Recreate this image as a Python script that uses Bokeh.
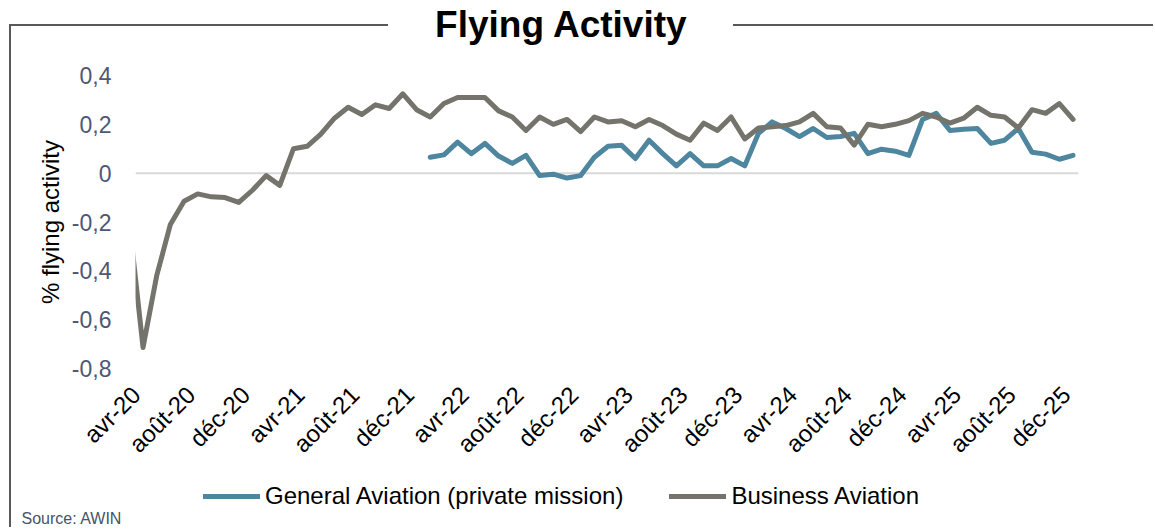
import math
from bokeh.plotting import figure
from bokeh.layouts import column
from bokeh.models import (FixedTicker, Span, Legend, LegendItem, Range1d,
                          ColumnDataSource, Label)
from bokeh.embed import file_html
from bokeh.resources import INLINE

# ---------------- data ----------------
# month index: 0 = janv-20 ; values are plotted at mid-month
tick_months = [3, 7, 11, 15, 19, 23, 27, 31, 35, 39, 43, 47, 51, 55, 59, 63, 67, 71]
tick_labels = ["avr-20", "août-20", "déc-20", "avr-21", "août-21", "déc-21",
               "avr-22", "août-22", "déc-22", "avr-23", "août-23", "déc-23",
               "avr-24", "août-24", "déc-24", "avr-25", "août-25", "déc-25"]

y_ticks = [-0.8, -0.6, -0.4, -0.2, 0, 0.2, 0.4]
y_tick_labels = ["-0,8", "-0,6", "-0,4", "-0,2", "0", "0,2", "0,4"]

business_start = 2   # mars-20
business = [-0.2, -0.714, -0.42, -0.21, -0.115, -0.085, -0.097, -0.10, -0.12, -0.07,
            -0.01, -0.05, 0.10, 0.11, 0.16, 0.225, 0.27, 0.24, 0.28, 0.265,
            0.325, 0.26, 0.23, 0.285, 0.31, 0.31, 0.31, 0.255, 0.23, 0.175,
            0.23, 0.20, 0.22, 0.17, 0.23, 0.21, 0.215, 0.19, 0.22, 0.195,
            0.16, 0.135, 0.205, 0.175, 0.23, 0.14, 0.185, 0.19, 0.195, 0.21,
            0.245, 0.19, 0.185, 0.115, 0.20, 0.19, 0.20, 0.215, 0.245, 0.23,
            0.205, 0.225, 0.27, 0.237, 0.23, 0.185, 0.26, 0.245, 0.285, 0.22]

general_start = 24   # janv-22
general = [0.065, 0.075, 0.127, 0.08, 0.122, 0.07, 0.04, 0.073, -0.01, -0.004,
           -0.02, -0.01, 0.065, 0.11, 0.114, 0.06, 0.135, 0.08, 0.03, 0.08,
           0.03, 0.03, 0.06, 0.03, 0.163, 0.21, 0.183, 0.15, 0.183, 0.146,
           0.15, 0.163, 0.08, 0.098, 0.09, 0.073, 0.22, 0.245, 0.175, 0.18,
           0.183, 0.122, 0.135, 0.183, 0.086, 0.078, 0.057, 0.073]

series_names = ["General Aviation (private mission)", "Business Aviation"]
chart_title = "Flying Activity"
source_text = "Source: AWIN"
y_label = "% flying activity"

# ---------------- style ----------------
FONT = "Liberation Sans"
BLUE = "#4E86A0"
GREY = "#74746C"
FRAME_LINE = "#595959"
W = 1153
H_HEAD, H_MAIN, H_FOOT = 55, 415, 57
H = H_HEAD + H_MAIN + H_FOOT


def blank_fig(height, **kw):
    f = figure(width=W, height=height, output_backend="svg", toolbar_location=None, tools="",
               x_axis_location=None, y_axis_location=None, min_border=0, frame_align=False, **kw)
    f.outline_line_color = None
    f.background_fill_color = None
    f.border_fill_color = None
    f.xgrid.visible = False
    f.ygrid.visible = False
    return f


# ---- header with the title ----
head = blank_fig(H_HEAD, x_range=Range1d(0, 1), y_range=Range1d(0, 1))
head.add_layout(Label(x=561, y=31, x_units="screen", y_units="screen",
                      text=chart_title, text_font=FONT, text_font_size="37px",
                      text_font_style="bold", text_color="black",
                      text_align="center", text_baseline="alphabetic"))

# ---- main chart ----
p = figure(width=W, height=H_MAIN, output_backend="svg", toolbar_location=None, tools="",
           x_range=Range1d(2.95, 71.9), y_range=Range1d(-0.8, 0.4), frame_align=False,
           min_border_left=135, min_border_right=W - 1078,
           min_border_top=75 - H_HEAD, min_border_bottom=H_HEAD + H_MAIN - 369)
p.outline_line_color = None
p.background_fill_color = "white"
p.border_fill_color = None
p.xgrid.visible = False
p.ygrid.visible = False

xa = p.xaxis[0]
xa.ticker = FixedTicker(ticks=tick_months)
xa.major_label_overrides = dict(zip(tick_months, tick_labels))
xa.major_label_orientation = math.pi / 4
xa.axis_line_color = None
xa.major_tick_line_color = None
xa.minor_tick_line_color = None
xa.major_label_text_font = FONT
xa.major_label_text_font_size = "24px"
xa.major_label_text_color = "black"
xa.major_label_standoff = 16

ya = p.yaxis[0]
ya.ticker = FixedTicker(ticks=y_ticks)
ya.major_label_overrides = dict(zip(y_ticks, y_tick_labels))
ya.axis_line_color = None
ya.major_tick_line_color = None
ya.minor_tick_line_color = None
ya.major_label_text_font = FONT
ya.major_label_text_font_size = "23px"
ya.major_label_text_color = "#4D5874"
ya.major_label_standoff = 18
ya.axis_label = y_label
ya.axis_label_text_font = FONT
ya.axis_label_text_font_size = "24px"
ya.axis_label_text_font_style = "normal"
ya.axis_label_text_color = "black"
ya.axis_label_standoff = 5

p.add_layout(Span(location=0, dimension="width", line_color="#D9D9D9",
                  line_width=2, level="underlay"))

ga_src = ColumnDataSource(dict(x=[general_start + i + 0.5 for i in range(len(general))], y=general))
ba_src = ColumnDataSource(dict(x=[business_start + i + 0.5 for i in range(len(business))], y=business))

line_style = dict(line_width=5, line_join="round", line_cap="round")
p.line("x", "y", source=ga_src, line_color=BLUE, **line_style)
p.line("x", "y", source=ba_src, line_color=GREY, **line_style)

# ---- footer with legend and source ----
# the same series are referenced here only for their legend swatches (ranges keep them out of view)
foot = blank_fig(H_FOOT, x_range=Range1d(2.95, 71.9), y_range=Range1d(10, 11))
k_ga = foot.line("x", "y", source=ga_src, line_color=BLUE, **line_style)
k_ba = foot.line("x", "y", source=ba_src, line_color=GREY, **line_style)
legend = Legend(items=[LegendItem(label=series_names[0], renderers=[k_ga]),
                       LegendItem(label=series_names[1], renderers=[k_ba])],
                orientation="horizontal", location=(203, H_FOOT - 40),
                label_text_font=FONT, label_text_font_size="24px", label_text_color="black",
                glyph_width=57, glyph_height=24, label_standoff=5, spacing=46,
                padding=0, margin=0, border_line_color=None, background_fill_alpha=0)
foot.add_layout(legend)
foot.add_layout(Label(x=21, y=1, x_units="screen", y_units="screen", text=source_text,
                      text_font=FONT, text_font_size="16px", text_color="#44546A",
                      text_align="left", text_baseline="bottom"))

layout = column(head, p, foot, spacing=0, styles={
    "background-color": "white",
    "background-image": ", ".join([f"linear-gradient({FRAME_LINE}, {FRAME_LINE})"] * 3),
    "background-size": f"379px 2px, {W - 733}px 2px, 2px {H - 24}px",
    "background-position": "9px 24px, 733px 24px, 9px 24px",
    "background-repeat": "no-repeat",
})

open("out.html", "w").write(file_html(layout, INLINE))
